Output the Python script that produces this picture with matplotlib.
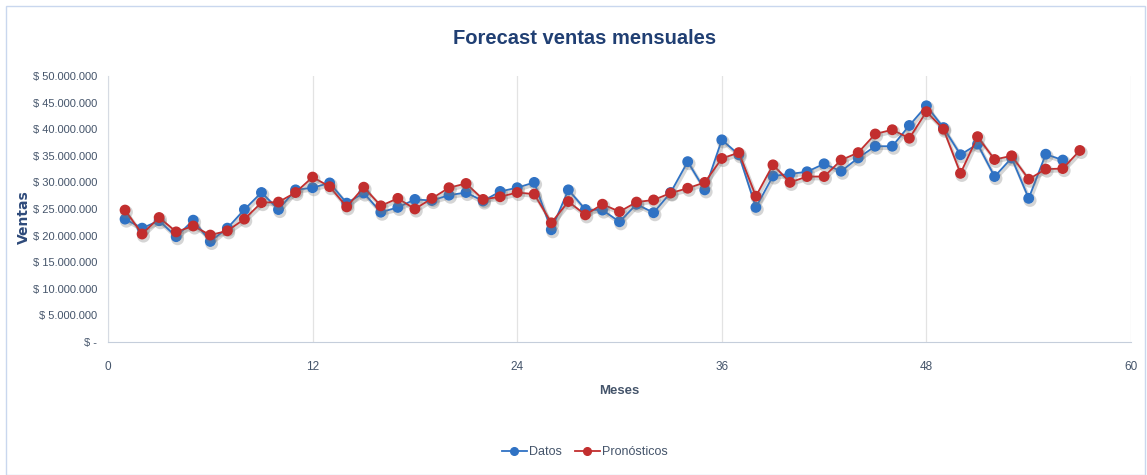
import matplotlib
matplotlib.use("Agg")
import matplotlib.pyplot as plt
from matplotlib.patches import Rectangle
from matplotlib.lines import Line2D
import matplotlib.patheffects as pe
from matplotlib.ticker import FuncFormatter, MultipleLocator

plt.rcParams['font.family'] = ['Liberation Sans Narrow', 'Liberation Sans', 'DejaVu Sans']

meses_datos = list(range(1, 57))
datos = [23.1, 21.4, 22.8, 19.8, 22.9, 18.9, 21.4, 24.9, 28.1, 24.9,
         28.6, 29.0, 29.9, 26.1, 28.0, 24.4, 25.3, 26.8, 26.6, 27.6,
         28.1, 26.5, 28.3, 29.0, 30.0, 21.1, 28.6, 24.9, 24.8, 22.6,
         25.9, 24.3, 28.1, 33.9, 28.6, 38.0, 35.2, 25.3, 31.2, 31.6,
         32.0, 33.5, 32.1, 34.6, 36.8, 36.8, 40.7, 44.4, 40.3, 35.2,
         37.2, 31.1, 34.6, 27.0, 35.3, 34.2]
meses_pron = list(range(1, 58))
pronosticos = [24.8, 20.3, 23.4, 20.7, 21.8, 20.1, 20.9, 23.1, 26.2, 26.3,
               28.1, 31.0, 29.2, 25.4, 29.1, 25.6, 27.0, 25.0, 27.0, 29.0,
               29.8, 26.8, 27.3, 28.1, 27.8, 22.4, 26.4, 23.9, 25.9, 24.5,
               26.3, 26.7, 28.0, 28.9, 30.0, 34.5, 35.6, 27.4, 33.3, 30.0,
               31.1, 31.1, 34.2, 35.6, 39.1, 39.9, 38.3, 43.3, 40.0, 31.7,
               38.6, 34.3, 35.0, 30.6, 32.5, 32.6, 36.0]
datos = [v * 1e6 for v in datos]
pronosticos = [v * 1e6 for v in pronosticos]

x_ticks = [0, 12, 24, 36, 48, 60]
title = "Forecast ventas mensuales"

blue = '#2f72c4'
red = '#c22e2e'
text_col = '#44546a'

fig = plt.figure(figsize=(11.47, 4.75), dpi=100)
fig.patches.append(Rectangle((6/1147, 0.0), 1 - 8/1147, 1 - 6/475, transform=fig.transFigure,
                             fill=False, edgecolor='#c9d7ee', linewidth=1.0))
ax = fig.add_axes([108/1147, 1 - 342/475, (1131 - 108)/1147, (342 - 76)/475])

shadow = [pe.SimpleLineShadow(offset=(1, -1.5), shadow_color='#777777', alpha=0.3, linewidth=2.5),
          pe.Normal()]
ax.plot(meses_datos, datos, color=blue, lw=1.3, marker='o', ms=6.8, mec=blue, mfc=blue,
        label='Datos', zorder=3, path_effects=shadow)
ax.plot(meses_pron, pronosticos, color=red, lw=1.3, marker='o', ms=6.8, mec=red, mfc=red,
        label='Pronósticos', zorder=4, path_effects=shadow)

ax.set_xlim(0, 60)
ax.set_ylim(0, 50e6)
ax.set_xticks(x_ticks)
ax.yaxis.set_major_locator(MultipleLocator(5e6))

def fmt(v, pos):
    if v == 0:
        return '$ -'
    return '$ ' + f"{int(v):,}".replace(',', '.')

ax.yaxis.set_major_formatter(FuncFormatter(fmt))
ax.grid(axis='x', color='#e3e3e3', lw=0.9)
ax.set_axisbelow(True)
for s in ['top', 'right']:
    ax.spines[s].set_visible(False)
ax.spines['left'].set_color('#d6dbe3')
ax.spines['bottom'].set_color('#c5cedb')
ax.tick_params(axis='both', length=0, labelsize=8, labelcolor=text_col)
ax.tick_params(axis='x', pad=14, labelsize=8.5)
ax.tick_params(axis='y', pad=8)

ax.set_xlabel('Meses', fontsize=9.5, fontweight='bold', color=text_col, labelpad=8)
ax.set_ylabel('Ventas', fontsize=10, fontweight='bold', color='#2e4a7a',
              family=['DejaVu Sans'])
ax.yaxis.set_label_coords(-0.075, 0.47)

fig.text(0.51, 1 - 38/475, title, ha='center', va='center', fontsize=14.5, fontweight='bold',
         color='#203f73')

h1 = Line2D([], [], color=blue, lw=1.3, marker='o', ms=5.5)
h2 = Line2D([], [], color=red, lw=1.3, marker='o', ms=5.5)
leg = fig.legend([h1, h2], ['Datos', 'Pronósticos'], loc='center',
                 bbox_to_anchor=(0.51, 1 - 452/475), ncol=2, frameon=False,
                 fontsize=9, handlelength=2.0, columnspacing=1.0, handletextpad=0.2)
for t in leg.get_texts():
    t.set_color(text_col)

fig.savefig('out.png', dpi=100)
